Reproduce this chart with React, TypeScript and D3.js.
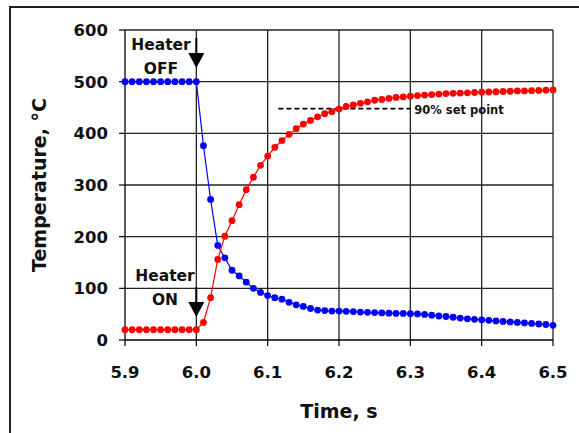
import React from "react";
import * as d3 from "d3";

// Time axis: samples every 0.01 s from 5.90 to 6.50
const times = d3.range(61).map((i) => +(5.9 + i * 0.01).toFixed(2));

// Heater-off sample (blue)
const coolingTemps = [
  500, 500, 500, 500, 500, 500, 500, 500, 500, 500, 500,
  376, 272, 183, 159, 135, 124, 112, 100, 92, 86,
  82, 79, 73, 68, 65, 61, 58, 57, 56, 56,
  55.5, 55, 54, 53.5, 53, 52.5, 52, 51.5, 51.5, 51,
  50.5, 49.5, 48, 46.5, 45.5, 44, 42.5, 41, 40, 39,
  38, 37, 36, 35, 34, 33, 32, 31, 30, 28.5,
];

// Heater-on sample (red)
const heatingTemps = [
  20, 20, 20, 20, 20, 20, 20, 20, 20, 20, 20,
  34, 82, 156, 201, 231, 262, 291, 315, 338, 356,
  373, 386, 398, 409, 418, 425, 432, 438, 442, 447,
  452, 455, 458, 461, 464, 465.5, 467.5, 469.5, 470.5, 472,
  473, 474, 475, 476, 477, 477.5, 478, 478.5, 479, 479.5,
  480, 480.5, 481, 481.5, 482, 482, 482.5, 483, 483.5, 484,
];

const xTicks = [5.9, 6.0, 6.1, 6.2, 6.3, 6.4, 6.5];
const yTicks = [0, 100, 200, 300, 400, 500, 600];
const setPoint = { value: 448, from: 6.115, to: 6.3, label: "90% set point" };

const font = "'DejaVu Sans', Verdana, sans-serif";

export default function App() {
  const x = d3.scaleLinear().domain([5.9, 6.5]).range([125, 553]);
  const y = d3.scaleLinear().domain([0, 600]).range([340, 30]);

  const line = d3
    .line<number>()
    .x((_, i) => x(times[i]))
    .y((d) => y(d));

  const series = [
    { values: coolingTemps, color: "#0000ff" },
    { values: heatingTemps, color: "#ff0000" },
  ];

  const x0 = x(6.0);

  return (
    <div style={{ position: "absolute", left: 0, top: 0 }}>
      <svg width={579} height={433} style={{ display: "block", background: "#fff" }}>
        {/* outer frame */}
        <rect x={10} y={7} width={620} height={500} fill="none" stroke="#222" strokeWidth={2} />

        {/* grid */}
        {yTicks.slice(1).map((t) => (
          <line key={"gy" + t} x1={x(5.9)} x2={x(6.5)} y1={y(t)} y2={y(t)} stroke="#222" strokeWidth={1.3} />
        ))}
        {xTicks.slice(1).map((t) => (
          <line key={"gx" + t} x1={x(t)} x2={x(t)} y1={y(0)} y2={y(600)} stroke="#222" strokeWidth={1.3} />
        ))}

        {/* axes */}
        <line x1={x(5.9)} x2={x(6.5)} y1={y(0)} y2={y(0)} stroke="#000" strokeWidth={1.3} />
        <line x1={x(5.9)} x2={x(5.9)} y1={y(0)} y2={y(600)} stroke="#000" strokeWidth={1.3} />
        {xTicks.map((t) => (
          <g key={"xt" + t}>
            <line x1={x(t)} x2={x(t)} y1={y(0)} y2={y(0) + 6} stroke="#000" strokeWidth={1.2} />
            <text x={x(t)} y={378} textAnchor="middle" fontFamily={font} fontWeight="bold" fontSize={16.5} fill="#111">
              {t.toFixed(1)}
            </text>
          </g>
        ))}
        {yTicks.map((t) => (
          <g key={"yt" + t}>
            <line x1={x(5.9) - 6} x2={x(5.9)} y1={y(t)} y2={y(t)} stroke="#000" strokeWidth={1.2} />
            <text x={108} y={y(t) + 6} textAnchor="end" fontFamily={font} fontWeight="bold" fontSize={16.5} fill="#111">
              {t}
            </text>
          </g>
        ))}

        {/* axis titles */}
        <text x={(x(5.9) + x(6.5)) / 2} y={418} textAnchor="middle" fontFamily={font} fontWeight="bold" fontSize={19} fill="#111">
          Time, s
        </text>
        <text
          transform={`translate(46,${(y(0) + y(600)) / 2}) rotate(-90)`}
          textAnchor="middle"
          fontFamily={font}
          fontWeight="bold"
          fontSize={19}
          fill="#111"
        >
          Temperature, °C
        </text>

        {/* set point */}
        <line
          x1={x(setPoint.from)}
          x2={x(setPoint.to)}
          y1={y(setPoint.value)}
          y2={y(setPoint.value)}
          stroke="#000"
          strokeWidth={1.8}
          strokeDasharray="5,3"
        />
        <text x={x(setPoint.to) + 4} y={y(setPoint.value) + 5} fontFamily={font} fontWeight="bold" fontSize={11.5} fill="#111">
          {setPoint.label}
        </text>

        {/* series */}
        {series.map((s) => (
          <g key={s.color}>
            <path d={line(s.values) ?? ""} fill="none" stroke={s.color} strokeWidth={1.2} />
            {s.values.map((v, i) => (
              <circle key={i} cx={x(times[i])} cy={y(v)} r={3.4} fill={s.color} />
            ))}
          </g>
        ))}

        {/* heater off annotation */}
        <text x={161} y={50} textAnchor="middle" fontFamily={font} fontWeight="bold" fontSize={15.5} fill="#111">
          Heater
        </text>
        <text x={161} y={74} textAnchor="middle" fontFamily={font} fontWeight="bold" fontSize={15.5} fill="#111">
          OFF
        </text>
        <line x1={x0} x2={x0} y1={38} y2={55} stroke="#000" strokeWidth={2} />
        <path d={`M${x0 - 8},53 L${x0 + 8},53 L${x0},68 Z`} fill="#000" />

        {/* heater on annotation */}
        <text x={165} y={281} textAnchor="middle" fontFamily={font} fontWeight="bold" fontSize={15.5} fill="#111">
          Heater
        </text>
        <text x={165} y={305} textAnchor="middle" fontFamily={font} fontWeight="bold" fontSize={15.5} fill="#111">
          ON
        </text>
        <line x1={x0} x2={x0} y1={287} y2={304} stroke="#000" strokeWidth={2} />
        <path d={`M${x0 - 8},302 L${x0 + 8},302 L${x0},317 Z`} fill="#000" />
      </svg>
    </div>
  );
}
